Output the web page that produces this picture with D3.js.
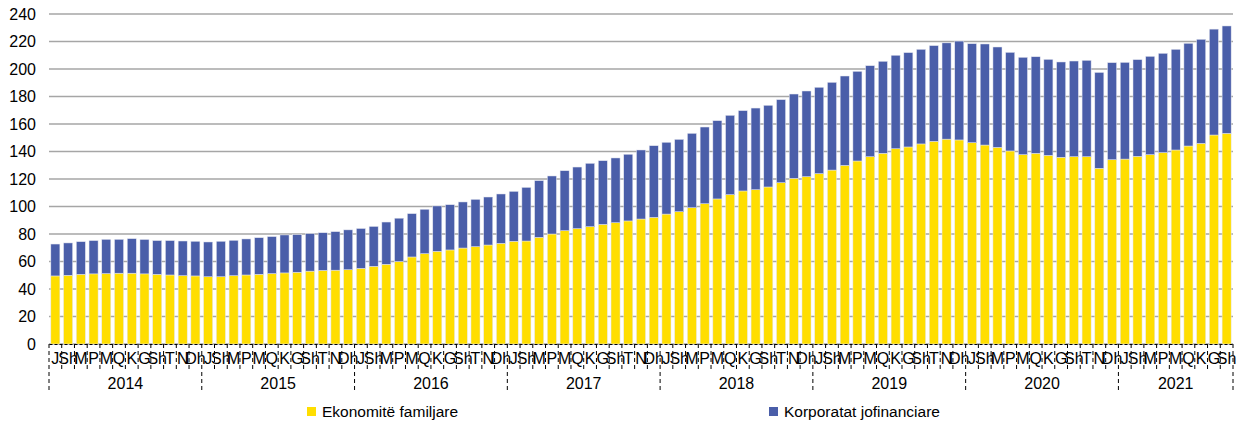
<!DOCTYPE html>
<html>
<head>
<meta charset="utf-8">
<script src="https://cdn.jsdelivr.net/npm/d3@7"></script>
<style>
  body { margin: 0; background: #fff; }
  svg { font-family: "Liberation Sans", Arial, sans-serif; }
</style>
</head>
<body>
<svg id="chart"></svg>
<script>
// month labels (Albanian) and years
let monthNames = ['J', 'Sh', 'M', 'P', 'M', 'Q', 'K', 'G', 'Sh', 'T', 'N', 'Dh']
let years = ['2014', '2015', '2016', '2017', '2018', '2019', '2020', '2021']
let yTicks = [0, 20, 40, 60, 80, 100, 120, 140, 160, 180, 200, 220, 240]

// series values, Jan 2014 .. Sep 2021
let households = [
  49.5, 50.0, 50.7, 51.0, 51.2, 51.5, 51.5, 51.0, 50.7, 50.2, 49.7, 49.5,
  48.9, 48.9, 49.7, 50.2, 50.7, 51.2, 51.7, 52.2, 53.0, 53.5, 53.7, 54.0,
  55.0, 56.5, 58.0, 60.0, 63.3, 65.7, 67.4, 68.4, 69.8, 70.8, 72.0, 73.2,
  74.7, 74.9, 77.6, 80.0, 82.4, 83.9, 85.3, 87.0, 88.2, 89.5, 90.9, 92.1,
  94.5, 96.2, 99.1, 102.0, 105.5, 108.6, 111.3, 112.2, 114.2, 117.3, 120.5, 121.7,
  123.9, 126.5, 129.9, 133.1, 136.2, 138.7, 142.0, 143.3, 145.5, 147.4, 149.0, 148.4,
  146.4, 144.7, 143.0, 140.4, 137.7, 138.7, 137.2, 135.8, 136.2, 136.2, 127.8, 134.0,
  134.5, 136.5, 137.7, 139.2, 141.1, 144.0, 145.9, 152.0, 153.2
]
let corporates = [
  23.2, 23.5, 23.7, 24.2, 24.9, 24.6, 25.1, 25.0, 24.5, 25.0, 25.2, 25.2,
  25.3, 25.8, 25.7, 26.2, 26.6, 26.9, 27.6, 27.3, 27.2, 27.4, 28.0, 29.0,
  29.0, 29.0, 30.7, 31.5, 31.5, 32.3, 33.0, 32.9, 33.5, 34.4, 34.9, 35.9,
  36.3, 39.0, 41.2, 42.2, 43.6, 44.8, 46.1, 46.3, 47.1, 48.5, 50.2, 52.1,
  52.2, 52.6, 54.1, 55.8, 56.9, 57.7, 58.4, 59.4, 59.4, 60.4, 61.3, 62.3,
  62.8, 63.8, 65.0, 65.2, 66.2, 66.9, 68.0, 68.6, 68.8, 69.6, 70.0, 71.9,
  72.0, 73.5, 73.0, 71.7, 70.8, 70.2, 69.8, 69.3, 69.6, 70.1, 69.7, 70.6,
  70.3, 70.3, 71.5, 72.2, 73.2, 74.7, 75.7, 77.0, 78.1
]
let seriesNames = ['Ekonomitë familjare', 'Korporatat jofinanciare']
let colors = ['#FFDE00', '#4A5EA9']

let outerWidth = 1241
let outerHeight = 425
let plot = { left: 49, right: 1233, top: 14, bottom: 344 }

let svg = d3.select('svg#chart')
  .attr('width', outerWidth)
  .attr('height', outerHeight)

//build rows for stacking
let rows = households.map((h, i) => ({ i: i, hh: h, corp: corporates[i] }))
let stacked = d3.stack().keys(['hh', 'corp'])(rows)

let xScale = d3.scaleBand()
  .domain(rows.map(d => d.i))
  .range([plot.left, plot.right])
  .paddingInner(0.29)
  .paddingOuter(0.145)

let yScale = d3.scaleLinear()
  .domain([0, 240])
  .range([plot.bottom, plot.top])

//gridlines
svg.append('g')
  .selectAll('line')
  .data(yTicks)
  .join('line')
  .attr('x1', plot.left)
  .attr('x2', plot.right)
  .attr('y1', d => yScale(d))
  .attr('y2', d => yScale(d))
  .attr('stroke', '#a6a6a6')
  .attr('stroke-width', 1.3)

//y axis labels
let yAxis = svg.append('g')
  .attr('transform', 'translate(' + plot.left + ',0)')
  .call(d3.axisLeft(yScale).tickValues(yTicks).tickSize(0).tickPadding(13))
yAxis.select('.domain').remove()
yAxis.selectAll('text')
  .attr('font-size', 16)
  .attr('font-family', '"Liberation Sans", Arial, sans-serif')
  .attr('fill', '#000')

//stacked bars
svg.append('g')
  .selectAll('g')
  .data(stacked)
  .join('g')
  .attr('fill', (d, k) => colors[k])
  .selectAll('rect')
  .data(d => d)
  .join('rect')
  .attr('x', d => xScale(d.data.i))
  .attr('width', xScale.bandwidth())
  .attr('y', d => yScale(d[1]))
  .attr('height', d => yScale(d[0]) - yScale(d[1]))
  .attr('stroke', '#e4e6f0')
  .attr('stroke-width', 0.5)

//x axis with month labels
let xAxis = svg.append('g')
  .attr('transform', 'translate(0,' + plot.bottom + ')')
  .call(d3.axisBottom(xScale).tickSize(0).tickPadding(9).tickFormat(i => monthNames[i % 12]))
xAxis.select('.domain')
  .attr('stroke', '#000')
  .attr('stroke-dasharray', '3,2')
xAxis.selectAll('text')
  .attr('font-size', 16)
  .attr('font-family', '"Liberation Sans", Arial, sans-serif')
  .attr('fill', '#000')

//category dividers, longer at year boundaries
let step = xScale.step()
let boundaries = d3.range(rows.length + 1)
svg.append('g')
  .selectAll('line')
  .data(boundaries)
  .join('line')
  .attr('x1', b => plot.left + b * step)
  .attr('x2', b => plot.left + b * step)
  .attr('y1', plot.bottom)
  .attr('y2', b => (b % 12 == 0 || b == rows.length) ? 393 : 369)
  .attr('stroke', '#000')
  .attr('stroke-width', 1)
  .attr('stroke-dasharray', '4,3')

//year labels
svg.append('g')
  .selectAll('text')
  .data(years)
  .join('text')
  .attr('x', (d, k) => {
    let start = k * 12
    let end = Math.min((k + 1) * 12, rows.length)
    return plot.left + (start + end) / 2 * step
  })
  .attr('y', 389)
  .attr('text-anchor', 'middle')
  .attr('font-size', 16)
  .attr('fill', '#000')
  .text(d => d)

//legend
let legendX = [307, 769]
let legend = svg.append('g')
  .selectAll('g')
  .data(seriesNames)
  .join('g')
  .attr('transform', (d, k) => 'translate(' + legendX[k] + ',407)')
legend.append('rect')
  .attr('width', 9)
  .attr('height', 9)
  .attr('fill', (d, k) => colors[k])
legend.append('text')
  .attr('x', 15)
  .attr('y', 10)
  .attr('font-size', 15.5)
  .attr('fill', '#000')
  .text(d => d)
</script>
</body>
</html>
